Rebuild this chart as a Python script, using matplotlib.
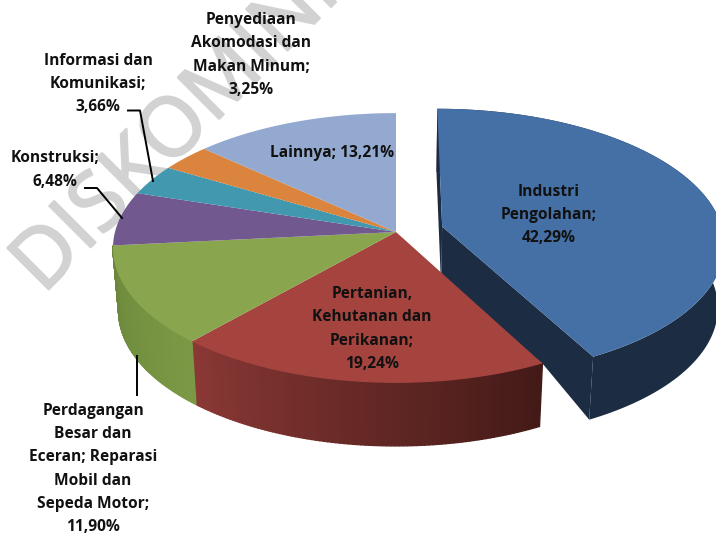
import numpy as np
import matplotlib
matplotlib.use('Agg')
from matplotlib import pyplot as plt
from matplotlib import patheffects
from matplotlib.colors import LinearSegmentedColormap

labels = ['Industri\nPengolahan;\n42,29%',
          'Pertanian,\nKehutanan dan\nPerikanan;\n19,24%',
          'Perdagangan\nBesar dan\nEceran; Reparasi\nMobil dan\nSepeda Motor;\n11,90%',
          'Konstruksi;\n6,48%',
          'Informasi dan\nKomunikasi;\n3,66%',
          'Penyediaan\nAkomodasi dan\nMakan Minum;\n3,25%',
          'Lainnya; 13,21%']
values = [42.29, 19.24, 11.90, 6.48, 3.66, 3.25, 13.21]
top_colors = ['#4470a6', '#a5433f', '#89a54e', '#71588f', '#4198af', '#db843d', '#93a9cf']
side_left = ['#1b2c43', '#8a3835', '#6c873c']
side_right = ['#1b2c43', '#431a17', '#7b9945']

label_x = [549, 372, 93, 55, 98, 251, 332]
label_y = [215, 329, 469, 170, 84, 55, 153]

# posisi pie dalam piksel
cx, cy = 396, 232
sx, sy = 281, 133
persp = 0.1185
depth = 63
shrink = 0.98
explode = 0.17


def project(u, v):
    w = 1 - persp * v
    return cx + sx * u / w, cy + sy * v / w


def point(theta, off_u=0, off_v=0, r=1.0):
    # theta searah jarum jam dari atas
    t = np.radians(theta)
    return project(r * np.sin(t) + off_u, -r * np.cos(t) + off_v)


def lower(x, y):
    return cx + shrink * (x - cx), y + depth


fig = plt.figure(figsize=(7.16, 5.35), dpi=100)
ax = fig.add_axes([0, 0, 1, 1])
ax.set_xlim(0, 716)
ax.set_ylim(535, 0)
ax.axis('off')

wm = ax.text(43, 295, 'DISKOMINFO', rotation=45, fontsize=59, color='#d2d2d2',
             family='Open Sans', ha='left', va='baseline',
             rotation_mode='anchor', zorder=0, clip_on=True)
wm.set_path_effects([patheffects.withStroke(linewidth=1.6, foreground='#d2d2d2')])

plt.rcParams['font.family'] = 'Open Sans'
edges = np.concatenate([[0], np.cumsum(values)]) / sum(values) * 360

# irisan yang ditarik keluar
a0, a1 = edges[0], edges[1]
mid = np.radians((a0 + a1) / 2)
ou, ov = explode * np.sin(mid), -explode * np.cos(mid)
tip = project(ou, ov)
end = point(a1, ou, ov)
start = point(a0, ou, ov)
red_corner = point(a1)

ts = np.linspace(a0, a1, 120)
arc = np.array([point(t, ou, ov) for t in ts])
low = np.array([lower(x, y) for x, y in arc])
ax.fill(*zip(tip, lower(*tip), lower(*start), start), color=side_left[0], lw=0, zorder=1)
ax.fill(*zip(tip, end, lower(*end), red_corner, lower(*tip)), color=side_left[0], lw=0, zorder=1)
ax.fill(np.r_[arc[:, 0], low[::-1, 0]], np.r_[arc[:, 1], low[::-1, 1]],
        color=side_left[0], lw=0, zorder=1)
ax.fill(np.r_[tip[0], arc[:, 0]], np.r_[tip[1], arc[:, 1]],
        color=top_colors[0], lw=0, zorder=2)

# dinding luar merah dan hijau
for i in [1, 2]:
    a0, a1 = edges[i], min(edges[i + 1], 266)
    cmap = LinearSegmentedColormap.from_list('s', [side_right[i], side_left[i]])
    steps = np.linspace(a0, a1, 90)
    for k in range(len(steps) - 1):
        p = np.array([point(steps[k]), point(steps[k + 1])])
        q = np.array([lower(*p[1]), lower(*p[0])])
        poly = np.vstack([p, q])
        c = cmap(k / (len(steps) - 2))
        ax.fill(poly[:, 0], poly[:, 1], color=c, lw=1.0, zorder=3)

# permukaan atas
for i in range(1, len(values)):
    ts = np.linspace(edges[i], edges[i + 1], 60)
    arc = np.array([point(t) for t in ts])
    ax.fill(np.r_[cx, arc[:, 0]], np.r_[cy, arc[:, 1]], color=top_colors[i], lw=0, zorder=4)

for lab, x, y in zip(labels, label_x, label_y):
    ax.text(x, y, lab, ha='center', va='center', fontsize=11.2, fontweight='bold',
            color='#111111', linespacing=1.6, zorder=6)

# garis penunjuk
ax.plot([128, 140, 153], [110.5, 110.5, 181], color='black', lw=1.4, zorder=5)
ax.plot([85, 97, 122], [188, 188, 218], color='black', lw=1.4, zorder=5)
ax.plot([137, 137], [356, 395], color='black', lw=1.4, zorder=5)

fig.savefig('out.png', dpi=100)
